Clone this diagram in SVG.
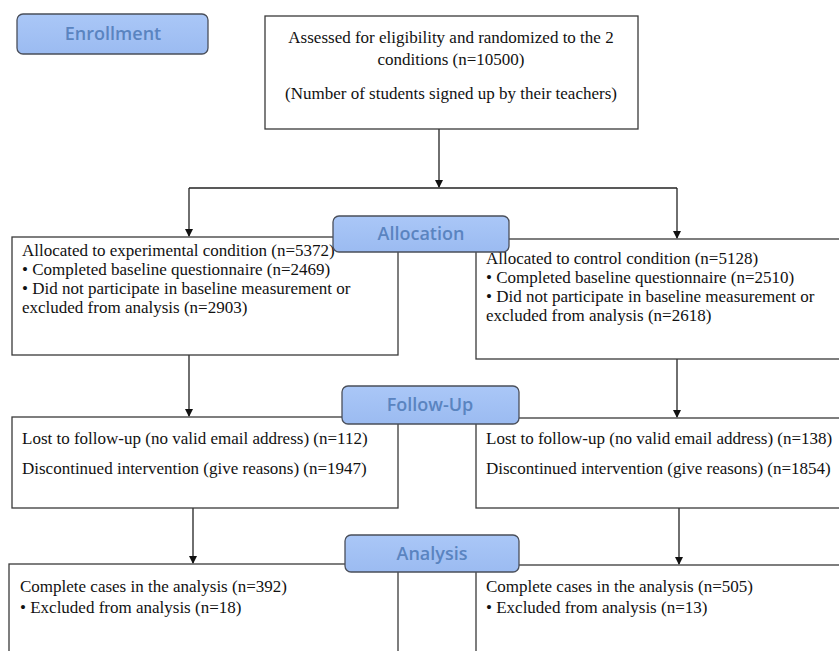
<svg xmlns="http://www.w3.org/2000/svg" width="839" height="651" viewBox="0 0 839 651">
<defs>
<marker id="ah" markerWidth="8" markerHeight="8" refX="7" refY="4" orient="auto" markerUnits="userSpaceOnUse">
<path d="M0,0 L8,4 L0,8 Z" fill="#111"/>
</marker>
<linearGradient id="lg" x1="0" y1="0" x2="0" y2="1">
<stop offset="0" stop-color="#aac7f7"/>
<stop offset="1" stop-color="#9bbbf1"/>
</linearGradient>
</defs>
<style>
.box{fill:#fff;stroke:#3a3a3a;stroke-width:1.3}
.lbl{fill:url(#lg);stroke:#4a4f5a;stroke-width:1.3}
.lt{font-family:"Open Sans","Liberation Sans",sans-serif;font-size:18px;font-weight:600;fill:#5a84c0;text-anchor:middle}
.t{font-family:"Liberation Serif","Times New Roman",serif;font-size:17px;fill:#111}
.c{text-anchor:middle}
.ln{stroke:#222;stroke-width:1.3;fill:none}
</style>
<rect width="839" height="651" fill="#fff"/>
<g id="connectors">
<path class="ln" d="M439,129 V187" marker-end="url(#ah)"/>
<path class="ln" d="M189,188 H677"/>
<path class="ln" d="M189,188 V236" marker-end="url(#ah)"/>
<path class="ln" d="M677,188 V238" marker-end="url(#ah)"/>
<path class="ln" d="M189,355 V416" marker-end="url(#ah)"/>
<path class="ln" d="M677,359 V417" marker-end="url(#ah)"/>
<path class="ln" d="M193,508 V563" marker-end="url(#ah)"/>
<path class="ln" d="M679,508 V564" marker-end="url(#ah)"/>
</g>
<g id="enrollment">
<rect class="lbl" x="17" y="14" width="191" height="40" rx="6"/>
<text class="lt" x="113" y="40">Enrollment</text>
</g>
<g id="assessed">
<rect class="box" x="265" y="16" width="373" height="113"/>
<text class="t c" x="451" y="43">Assessed for eligibility and randomized to the 2</text>
<text class="t c" x="451" y="65">conditions (n=10500)</text>
<text class="t c" x="451" y="99">(Number of students signed up by their teachers)</text>
</g>
<g id="alloc-exp">
<rect class="box" x="12" y="237" width="386" height="118"/>
<text class="t" x="22" y="256">Allocated to experimental condition (n=5372)</text>
<text class="t" x="22" y="275">• Completed baseline questionnaire (n=2469)</text>
<text class="t" x="22" y="294">• Did not participate in baseline measurement or</text>
<text class="t" x="22" y="313">excluded from analysis (n=2903)</text>
</g>
<g id="alloc-ctrl">
<rect class="box" x="476" y="239" width="370" height="120"/>
<text class="t" x="486" y="264">Allocated to control condition (n=5128)</text>
<text class="t" x="486" y="283">• Completed baseline questionnaire (n=2510)</text>
<text class="t" x="486" y="302">• Did not participate in baseline measurement or</text>
<text class="t" x="486" y="321">excluded from analysis (n=2618)</text>
</g>
<g id="allocation">
<rect class="lbl" x="333" y="216" width="176" height="36" rx="6"/>
<text class="lt" x="421" y="240">Allocation</text>
</g>
<g id="follow-exp">
<rect class="box" x="12" y="417" width="386" height="91"/>
<text class="t" x="22" y="444">Lost to follow-up (no valid email address) (n=112)</text>
<text class="t" x="22" y="474">Discontinued intervention (give reasons) (n=1947)</text>
</g>
<g id="follow-ctrl">
<rect class="box" x="476" y="418" width="370" height="90"/>
<text class="t" x="486" y="444">Lost to follow-up (no valid email address) (n=138)</text>
<text class="t" x="486" y="474">Discontinued intervention (give reasons) (n=1854)</text>
</g>
<g id="followup">
<rect class="lbl" x="342" y="386" width="177" height="38" rx="6"/>
<text class="lt" x="430" y="411">Follow-Up</text>
</g>
<g id="analysis-exp">
<rect class="box" x="9" y="564" width="389" height="100"/>
<text class="t" x="20" y="592">Complete cases in the analysis (n=392)</text>
<text class="t" x="20" y="613">• Excluded from analysis (n=18)</text>
</g>
<g id="analysis-ctrl">
<rect class="box" x="476" y="565" width="370" height="100"/>
<text class="t" x="486" y="592">Complete cases in the analysis (n=505)</text>
<text class="t" x="486" y="613">• Excluded from analysis (n=13)</text>
</g>
<g id="analysis">
<rect class="lbl" x="345" y="535" width="174" height="37" rx="6"/>
<text class="lt" x="432" y="560">Analysis</text>
</g>
</svg>
